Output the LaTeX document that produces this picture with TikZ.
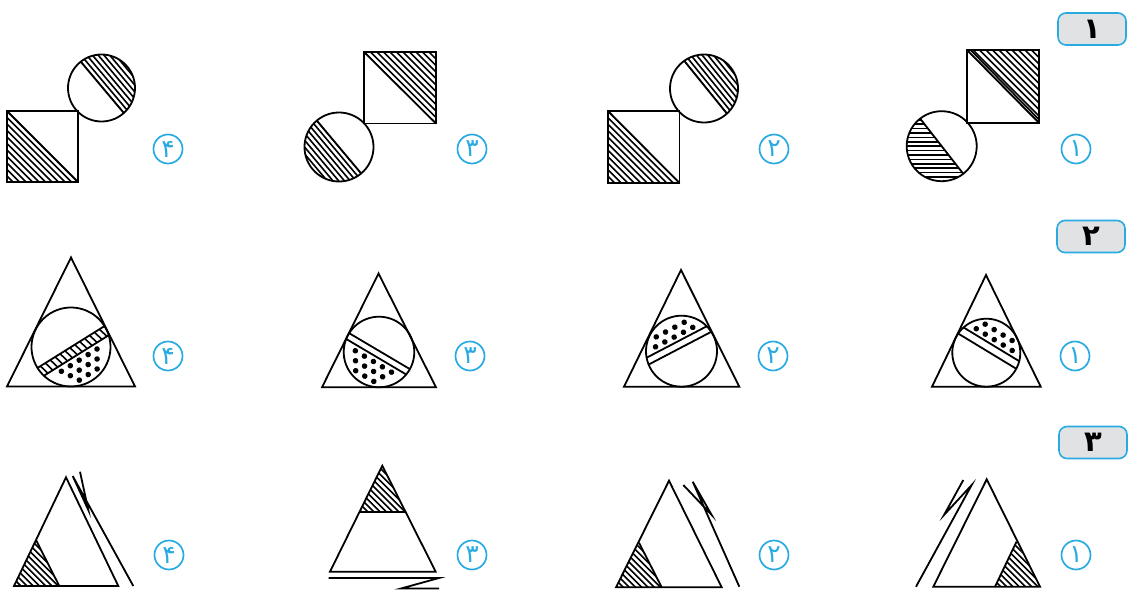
\documentclass[tikz,border=0pt]{standalone}
\usepackage{fontspec}
\newfontfamily\persianfont[Script=Arabic]{DejaVu Sans}
\definecolor{optblue}{HTML}{29ABE2}
\definecolor{tabgray}{HTML}{E1E2E3}

% circle cut by a chord, one side hatched
% #1 centre, #2 radius, #3 chord angle, #4 chord offset, #5 extra hatch turn
\newcommand{\cutcircle}[5]{%
  \begin{scope}[shift={#1}, rotate=#3]
    \begin{scope}
      \clip (0,0) circle (#2);
      \draw[outline] (-50,#4) -- (50,#4);
      \clip (-50,#4) rectangle (50,50);
      \foreach \k in {-14,...,14}
        \draw[hatch, rotate=#5] (-60,#4+\k*4.4) -- (60,#4+\k*4.4);
    \end{scope}
    \draw[outline] (0,0) circle (#2);
  \end{scope}
}

% circle with a band and a dotted cap
% #1 centre, #2 radius, #3 band angle, #4 and #5 band edges
\newcommand{\ballcircle}[5]{%
  \begin{scope}[shift={#1}, rotate=#3]
    \begin{scope}
      \clip (0,0) circle (#2);
      \draw[outline] (-50,#4) -- (50,#4);
      \draw[outline] (-50,#5) -- (50,#5);
    \end{scope}
    \foreach \j in {0,1,2,3}
      \foreach \i in {-4,...,4} {
        \pgfmathsetmacro{\doty}{#5+5.5+\j*8.5}
        \pgfmathsetmacro{\dotx}{\i*10.5+mod(\j,2)*5.25}
        \pgfmathsetmacro{\dotin}{\dotx*\dotx+\doty*\doty<(#2-4.5)*(#2-4.5)}
        \ifdim\dotin pt>0.5pt \fill[dotmark] (\dotx,\doty) circle (2.8); \fi
      }
    \draw[outline] (0,0) circle (#2);
  \end{scope}
}

\begin{document}
\begin{tikzpicture}[
    x=1pt, y=-1pt,
    outline/.style={line width=1.8pt, draw=black},
    hatch/.style={line width=1.6pt, draw=black},
    dotmark/.style={fill=black},
    optlabel/.style={circle, draw=optblue, line width=1.7pt, minimum size=29pt,
                     inner sep=0pt, text=optblue,
                     font=\persianfont\fontsize{25}{25}\selectfont},
    qtab/.style={rounded corners=8pt, draw=optblue, fill=tabgray, line width=1.6pt,
                 minimum width=68pt, minimum height=32pt,
                 font=\persianfont\bfseries\fontsize{29}{29}\selectfont},
]
\useasboundingbox (0,0) rectangle (1129,591);

% ===== question 1 =====
\node[qtab] (q1) at (1092,29) {۱};

% ---- option 4 ----
\begin{scope}
  \clip (7,111) -- (7,182) -- (78,182) -- cycle;
  \foreach \k in {-12,...,12}
    \draw[hatch, shift={(42.5,146.5)}, rotate=-45] (-60,\k*4.6) -- (60,\k*4.6);
\end{scope}
\draw[outline] (7,111) rectangle (78,182);
\draw[outline] (7,111) -- (78,182);
\cutcircle{(101.5,88)}{33.5}{130}{1}{0}

% ---- option 3 ----
\begin{scope}
  \clip (364,52) -- (436,52) -- (436,123.5) -- cycle;
  \foreach \k in {-12,...,12}
    \draw[hatch, shift={(400,88)}, rotate=-45] (-60,\k*4.6) -- (60,\k*4.6);
\end{scope}
\draw[outline] (364,52) rectangle (436,123.5);
\draw[outline] (364,52) -- (436,123.5);
\cutcircle{(339,147)}{34.5}{-50}{0}{0}

% ---- option 2 ----
\begin{scope}
  \clip (608,111) -- (608,183) -- (679.5,183) -- cycle;
  \foreach \k in {-12,...,12}
    \draw[hatch, shift={(643.7,147)}, rotate=-45] (-60,\k*4.6) -- (60,\k*4.6);
\end{scope}
\draw[outline] (608,111) rectangle (679.5,183);
\draw[outline] (608,111) -- (679.5,183);
\cutcircle{(704,88.5)}{34}{129}{2}{0}

% ---- option 1 ----
\begin{scope}
  \clip (967,50) -- (1039,50) -- (1039,123) -- cycle;
  \foreach \k in {-12,...,12}
    \draw[hatch, shift={(1003,86.5)}, rotate=-45] (-60,\k*4.6) -- (60,\k*4.6);
\end{scope}
\draw[outline] (967,50) rectangle (1039,123);
\draw[outline] (967,50) -- (1039,123);
\draw[hatch] (970.5,50) -- (1039,119.5);
\cutcircle{(941.7,146.2)}{35}{-52}{0}{52}

\node[optlabel] (r1o4) at (168,149) {۴};
\node[optlabel] (r1o3) at (472,149) {۳};
\node[optlabel] (r1o2) at (774,149) {۲};
\node[optlabel] (r1o1) at (1076,149) {۱};

% ===== question 2 =====
\node[qtab] (q2) at (1091,236.5) {۲};

% ---- option 4 ----
\draw[outline] (71,257.5) -- (135,386.5) -- (7,386.5) -- cycle;
\begin{scope}[shift={(71,347)}, rotate=32]
  \clip (0,0) circle (39.5);
  \clip (-50,0) rectangle (50,10);
  \foreach \k in {-9,...,9}
    \draw[hatch] (\k*5.8-1.5,-1) -- (\k*5.8+1.5,11);
\end{scope}
\ballcircle{(71,347)}{39.5}{32}{0}{10}

% ---- option 3 ----
\draw[outline] (378.5,273.5) -- (436,387.3) -- (322,387.3) -- cycle;
\ballcircle{(379,352)}{35.3}{-30.6}{-1}{5.5}

% ---- option 2 ----
\draw[outline] (681,270) -- (739.3,386.7) -- (624,386.7) -- cycle;
\ballcircle{(681.5,351.2)}{35.5}{207.6}{3.4}{10.4}

% ---- option 1 ----
\draw[outline] (986,275) -- (1040.7,386.7) -- (932,386.7) -- cycle;
\ballcircle{(986.3,352.7)}{34}{148.8}{1.8}{9.8}

\node[optlabel] (r2o4) at (168,356) {۴};
\node[optlabel] (r2o3) at (470,356) {۳};
\node[optlabel] (r2o2) at (773,356) {۲};
\node[optlabel] (r2o1) at (1075,356) {۱};

% ===== question 3 =====
\node[qtab] (q3) at (1093,442.5) {۳};

% ---- option 4 ----
\begin{scope}
  \clip (14,586) -- (36,540) -- (59.3,586) -- cycle;
  \foreach \k in {-10,...,10}
    \draw[hatch, shift={(36,570)}, rotate=-45] (-40,\k*4.4) -- (40,\k*4.4);
\end{scope}
\draw[outline] (66,477.3) -- (118.3,586) -- (14,586) -- cycle;
\draw[outline] (36,540) -- (59.3,586);
\draw[outline] (133.3,586) -- (72.7,476) -- (88.3,510) -- (80,471.7);

% ---- option 3 ----
\begin{scope}
  \clip (382.3,465.7) -- (360,511.7) -- (405,511.7) -- cycle;
  \foreach \k in {-10,...,10}
    \draw[hatch, shift={(382,495)}, rotate=-45] (-40,\k*4.4) -- (40,\k*4.4);
\end{scope}
\draw[outline] (382.3,465.7) -- (435.7,571.7) -- (330,571.7) -- cycle;
\draw[outline] (360,511.7) -- (405,511.7);
\draw[outline] (328.5,578) -- (439,578) -- (401,588.5) -- (439,588.5);

% ---- option 2 ----
\begin{scope}
  \clip (616,587.3) -- (639,542.7) -- (661.7,587.3) -- cycle;
  \foreach \k in {-10,...,10}
    \draw[hatch, shift={(639,572)}, rotate=-45] (-40,\k*4.4) -- (40,\k*4.4);
\end{scope}
\draw[outline] (669,480.7) -- (721.7,587.3) -- (616,587.3) -- cycle;
\draw[outline] (639,542.7) -- (661.7,587.3);
\draw[outline] (739.3,586.7) -- (692.7,481.7) -- (711.7,515) -- (683.3,485);

% ---- option 1 ----
\begin{scope}
  \clip (1040,586.7) -- (1016.5,541.7) -- (995,586.7) -- cycle;
  \foreach \k in {-10,...,10}
    \draw[hatch, shift={(1017,572)}, rotate=-45] (-40,\k*4.4) -- (40,\k*4.4);
\end{scope}
\draw[outline] (986.7,479.3) -- (1040,586.7) -- (933.3,586.7) -- cycle;
\draw[outline] (1016.5,541.7) -- (995,586.7);
\draw[outline] (916,586.7) -- (971.7,485) -- (944,515) -- (963.3,480);

\node[optlabel] (r3o4) at (169,555) {۴};
\node[optlabel] (r3o3) at (472,555) {۳};
\node[optlabel] (r3o2) at (774,555) {۲};
\node[optlabel] (r3o1) at (1076,555) {۱};

\end{tikzpicture}
\end{document}
